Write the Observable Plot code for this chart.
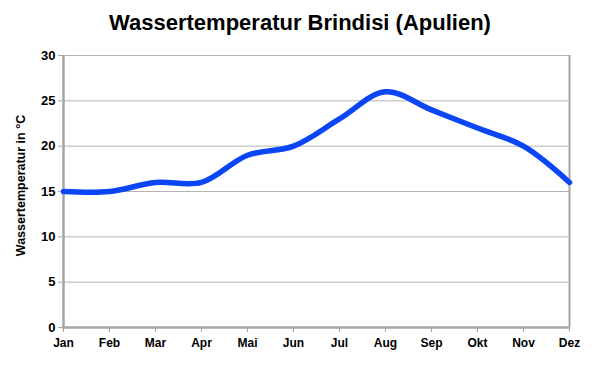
<!DOCTYPE html>
<html>
<head>
<meta charset="utf-8">
<script src="https://cdn.jsdelivr.net/npm/d3@7"></script>
<script src="https://cdn.jsdelivr.net/npm/@observablehq/plot@0.6"></script>
<style>
  body { margin: 0; background: #fff; font-family: "Liberation Sans", Arial, sans-serif; }
  #title { height: 40px; width: 594px; text-align: center; font-weight: bold; font-size: 22px; line-height: 46px; color: #000; padding-left: 6px; box-sizing: border-box; }
  #chart svg { display: block; }
</style>
</head>
<body>
<div id="title">Wassertemperatur Brindisi (Apulien)</div>
<div id="chart"></div>
<script>
const months = ["Jan","Feb","Mar","Apr","Mai","Jun","Jul","Aug","Sep","Okt","Nov","Dez"];
const temps = [15, 15, 16, 16, 19, 20, 23, 26, 24, 22, 20, 16];
const yTicks = [0, 5, 10, 15, 20, 25, 30];
const yLabel = "Wassertemperatur in °C";

const data = months.map((m, i) => ({month: m, temp: temps[i]}));
const gray = "#a6a6a6";

const chart = Plot.plot({
  width: 594,
  height: 331,
  marginTop: 15,
  marginBottom: 44,
  marginLeft: 62,
  marginRight: 25,
  style: {fontFamily: "Liberation Sans, Arial, sans-serif", fontSize: "12px", fontWeight: "bold", color: "#000", background: "#fff"},
  x: {type: "point", domain: months, padding: 0},
  y: {domain: [0, 30], ticks: yTicks},
  marks: [
    Plot.ruleY(yTicks.filter(d => d > 0), {stroke: "#b4b4b4", strokeWidth: 1}),
    Plot.ruleX([months[months.length - 1]], {stroke: gray, strokeWidth: 2}),
    Plot.ruleX([months[0]], {stroke: gray, strokeWidth: 2.5}),
    Plot.ruleY([0], {stroke: gray, strokeWidth: 2.5}),
    Plot.axisY({ticks: yTicks, tickSize: 4, tickPadding: 3, stroke: gray, label: null, fontSize: 13}),
    Plot.axisX({tickSize: 5, tickPadding: 6, stroke: gray, label: null, fontSize: 12}),
    Plot.text([yLabel], {frameAnchor: "left", textAnchor: "middle", dx: -42, dy: -6, rotate: -90, fontSize: 12.5, fontWeight: "bold", fill: "#000"}),
    Plot.line(data, {x: "month", y: "temp", curve: "catmull-rom", stroke: "#0a46f5", strokeWidth: 5.5, strokeLinecap: "round"})
  ]
});
document.getElementById("chart").appendChild(chart);
</script>
</body>
</html>
